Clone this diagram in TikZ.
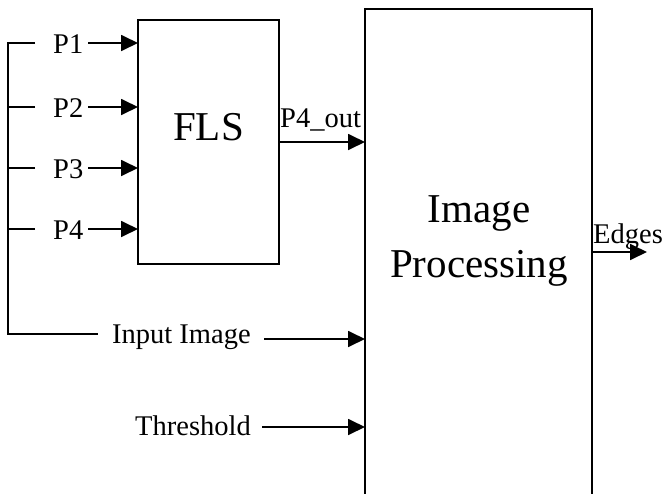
\documentclass[tikz,border=0pt]{standalone}
\usepackage{fontspec}
\setmainfont{Liberation Serif}
\usetikzlibrary{arrows.meta}
\begin{document}
\begin{tikzpicture}[x=1pt,y=-1pt,
  ln/.style={line width=1.8pt},
  arr/.style={ln,-{Triangle[length=17pt,width=16pt]}},
  box/.style={draw,line width=1.8pt,rectangle,inner sep=0pt,outer sep=0pt},
  lbl/.style={font=\fontsize{28.5}{32}\selectfont,inner sep=0pt,anchor=base west},
  big/.style={font=\fontsize{41}{55}\selectfont,inner sep=0pt,anchor=base}]
\useasboundingbox (0,0) rectangle (667,493);
% boxes
\node[box,minimum width=141pt,minimum height=244pt] (fls) at (208.5,142) {};
\node[box,minimum width=227pt,minimum height=501pt] (ip) at (478.5,259.5) {};
\node[big] (flst) at (208.5,140) {FLS};
\node[big] (ipt1) at (479,222) {Image};
\node[big] (ipt2) at (479,277) {Processing};
% labels
\node[lbl] (p1) at (53,53) {P1};
\node[lbl] (p2) at (53,117) {P2};
\node[lbl] (p3) at (53,178) {P3};
\node[lbl] (p4) at (53,239) {P4};
\node[lbl] (inimg) at (112,343) {Input Image};
\node[lbl] (thr) at (135,435) {Threshold};
\node[lbl] (p4o) at (280,127) {P4\_out};
\node[lbl] (edg) at (593,243) {Edges};
% bracket
\coordinate (t1) at (35,43);
\coordinate (t2) at (35,107);
\coordinate (t3) at (35,168);
\coordinate (t4) at (35,229);
\coordinate (c1) at (8,43);
\coordinate (c2) at (8,334);
\coordinate (t5) at (98,334);
\draw[ln] (t1) -- (c1) -- (c2) -- (t5);
\draw[ln] (t2) -- (t2 -| c1);
\draw[ln] (t3) -- (t3 -| c1);
\draw[ln] (t4) -- (t4 -| c1);
% arrows into FLS
\coordinate (s1) at (88,43);
\coordinate (s2) at (88,107);
\coordinate (s3) at (88,168);
\coordinate (s4) at (88,229);
\draw[arr] (s1) -- (s1 -| fls.west);
\draw[arr] (s2) -- (s2 -| fls.west);
\draw[arr] (s3) -- (s3 -| fls.west);
\draw[arr] (s4) -- (s4 -| fls.west);
% arrows into IP
\coordinate (o1) at (279,142);
\coordinate (si) at (264,339);
\coordinate (st) at (262,427);
\draw[arr] (o1 -| fls.east) -- (o1 -| ip.west);
\draw[arr] (si) -- (si -| ip.west);
\draw[arr] (st) -- (st -| ip.west);
% output
\coordinate (eo) at (647,252);
\draw[arr] (eo -| ip.east) -- (eo);
\end{tikzpicture}
\end{document}
